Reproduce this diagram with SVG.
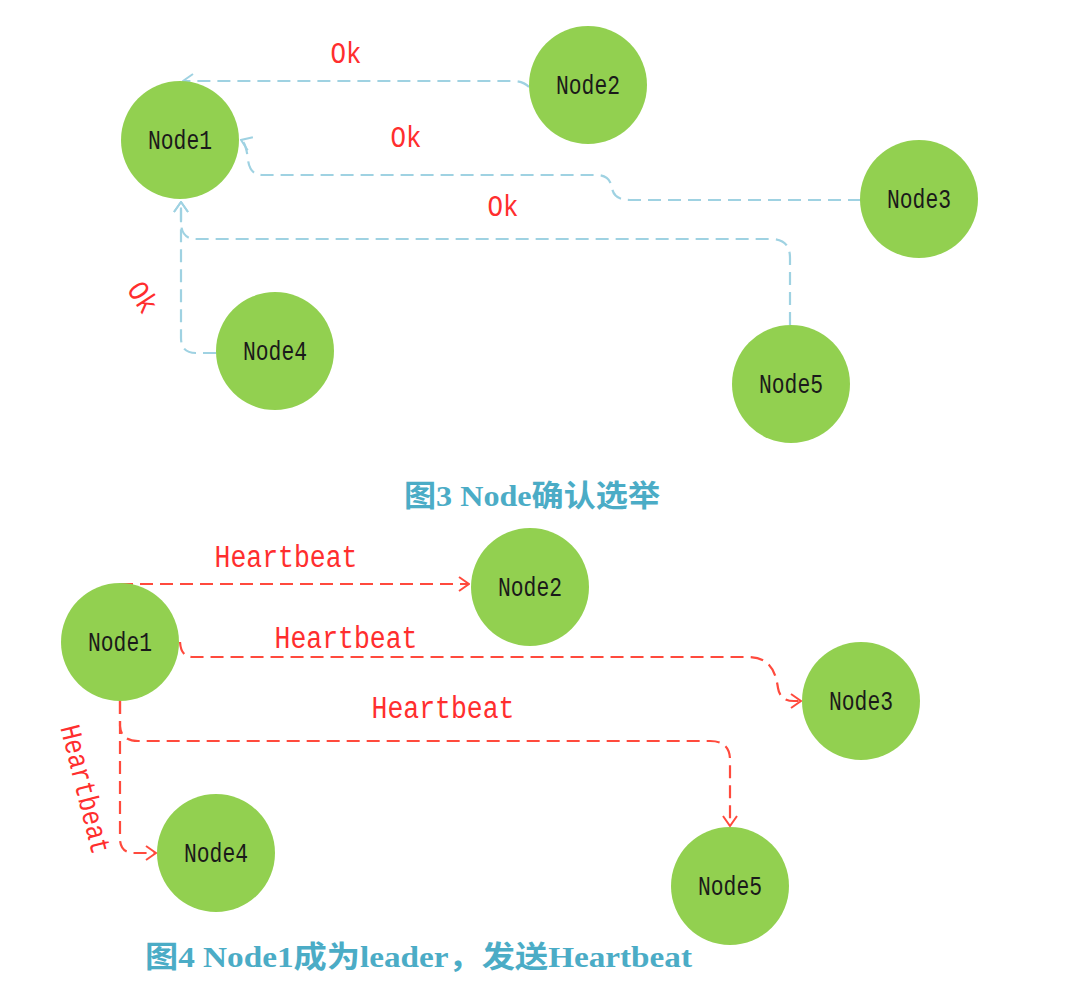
<svg xmlns="http://www.w3.org/2000/svg" width="1072" height="1002" viewBox="0 0 1072 1002">
  <style>
    .node { fill: #92D050; }
    .nlabel { font-family: "Liberation Mono", "DejaVu Sans Mono", monospace; font-size: 27px; fill: #1a1a1a; text-anchor: middle; }
    .blue { fill: none; stroke: #9FD2E2; stroke-width: 2.2; stroke-dasharray: 13 7; }
    .red { fill: none; stroke: #FF4A3D; stroke-width: 2.2; stroke-dasharray: 13 7; }
    .ok { font-family: "Liberation Mono", "DejaVu Sans Mono", monospace; font-size: 30px; fill: #FF2E2E; text-anchor: middle; }
    .hb { font-family: "Liberation Mono", "DejaVu Sans Mono", monospace; font-size: 31px; fill: #FF2E2E; text-anchor: middle; }
    .cap { font-family: "Liberation Serif", "Noto Sans CJK SC", serif; font-size: 30px; font-weight: bold; fill: #4BACC6; }
  </style>
  <defs>
    <marker id="arrowBlue" viewBox="0 0 12 16" refX="11" refY="8" markerWidth="12" markerHeight="16" markerUnits="userSpaceOnUse" orient="auto">
      <path d="M1,1 L11,8 L1,15" fill="none" stroke="#9FD2E2" stroke-width="2"/>
    </marker>
    <marker id="arrowRed" viewBox="0 0 12 16" refX="11" refY="8" markerWidth="12" markerHeight="16" markerUnits="userSpaceOnUse" orient="auto">
      <path d="M1,1 L11,8 L1,15" fill="none" stroke="#FF4A3D" stroke-width="2"/>
    </marker>
  </defs>
  <rect width="1072" height="1002" fill="#ffffff"/>

  <g id="connectors">
    <!-- Figure 3 -->
    <path class="blue" d="M529,87 Q523,81 512,81 L183,81" marker-end="url(#arrowBlue)"/>
    <path class="blue" d="M861,200 L630,200 Q614,200 612,188 Q610,175 596,175 L262,175 Q250,175 248,160 Q246,142 241,140" marker-end="url(#arrowBlue)"/>
    <path class="blue" d="M790,325 L790,258 Q790,239 771,239 L196,239 Q182,239 181,224 L181,202" marker-end="url(#arrowBlue)"/>
    <path class="blue" d="M216,353 L196,353 Q181,353 181,338 L181,202" marker-end="url(#arrowBlue)"/>
    <!-- Figure 4 -->
    <path class="red" d="M120,584 L469,584" marker-end="url(#arrowRed)"/>
    <path class="red" d="M180,642 Q181,657 192,657 L748,657 C772,657 776,675 778,688 Q780,701 794,701 L801,701" marker-end="url(#arrowRed)"/>
    <path class="red" d="M120,701 L120,726 Q121,741 138,741 L710,741 Q730,741 730,760 L730,826" marker-end="url(#arrowRed)"/>
    <path class="red" d="M120,701 L120,840 Q121,853 134,853 L156,853" marker-end="url(#arrowRed)"/>
  </g>

  <g id="labels">
    <text class="ok" x="346" y="63" textLength="31" lengthAdjust="spacingAndGlyphs">Ok</text>
    <text class="ok" x="406" y="147" textLength="31" lengthAdjust="spacingAndGlyphs">Ok</text>
    <text class="ok" x="503" y="216" textLength="31" lengthAdjust="spacingAndGlyphs">Ok</text>
    <text class="ok" transform="translate(143,297) rotate(57)" x="0" y="10" textLength="31" lengthAdjust="spacingAndGlyphs">Ok</text>
    <text class="hb" x="286" y="567" textLength="143" lengthAdjust="spacingAndGlyphs">Heartbeat</text>
    <text class="hb" x="346" y="648" textLength="143" lengthAdjust="spacingAndGlyphs">Heartbeat</text>
    <text class="hb" x="443" y="718" textLength="143" lengthAdjust="spacingAndGlyphs">Heartbeat</text>
    <text class="hb" transform="translate(86,789) rotate(76)" x="0" y="10" style="font-size:29px" textLength="132" lengthAdjust="spacingAndGlyphs">Heartbeat</text>
  </g>

  <!-- Figure 3 nodes -->
  <g id="f3-node1"><circle class="node" cx="180" cy="140" r="59"/><text class="nlabel" x="180" y="149" textLength="64" lengthAdjust="spacingAndGlyphs">Node1</text></g>
  <g id="f3-node2"><circle class="node" cx="588" cy="85" r="59"/><text class="nlabel" x="588" y="94" textLength="64" lengthAdjust="spacingAndGlyphs">Node2</text></g>
  <g id="f3-node3"><circle class="node" cx="919" cy="199" r="59"/><text class="nlabel" x="919" y="208" textLength="64" lengthAdjust="spacingAndGlyphs">Node3</text></g>
  <g id="f3-node4"><circle class="node" cx="275" cy="351" r="59"/><text class="nlabel" x="275" y="360" textLength="64" lengthAdjust="spacingAndGlyphs">Node4</text></g>
  <g id="f3-node5"><circle class="node" cx="791" cy="384" r="59"/><text class="nlabel" x="791" y="393" textLength="64" lengthAdjust="spacingAndGlyphs">Node5</text></g>

  <!-- Figure 4 nodes -->
  <g id="f4-node1"><circle class="node" cx="120" cy="642" r="59"/><text class="nlabel" x="120" y="651" textLength="64" lengthAdjust="spacingAndGlyphs">Node1</text></g>
  <g id="f4-node2"><circle class="node" cx="530" cy="587" r="59"/><text class="nlabel" x="530" y="596" textLength="64" lengthAdjust="spacingAndGlyphs">Node2</text></g>
  <g id="f4-node3"><circle class="node" cx="861" cy="701" r="59"/><text class="nlabel" x="861" y="710" textLength="64" lengthAdjust="spacingAndGlyphs">Node3</text></g>
  <g id="f4-node4"><circle class="node" cx="216" cy="853" r="59"/><text class="nlabel" x="216" y="862" textLength="64" lengthAdjust="spacingAndGlyphs">Node4</text></g>
  <g id="f4-node5"><circle class="node" cx="730" cy="886" r="59"/><text class="nlabel" x="730" y="895" textLength="64" lengthAdjust="spacingAndGlyphs">Node5</text></g>

  <g id="captions">
    <text class="cap" x="404" y="506" textLength="256" lengthAdjust="spacingAndGlyphs">图3 Node确认选举</text>
    <text class="cap" x="145" y="967" textLength="547" lengthAdjust="spacingAndGlyphs">图4 Node1成为leader，发送Heartbeat</text>
  </g>
</svg>
